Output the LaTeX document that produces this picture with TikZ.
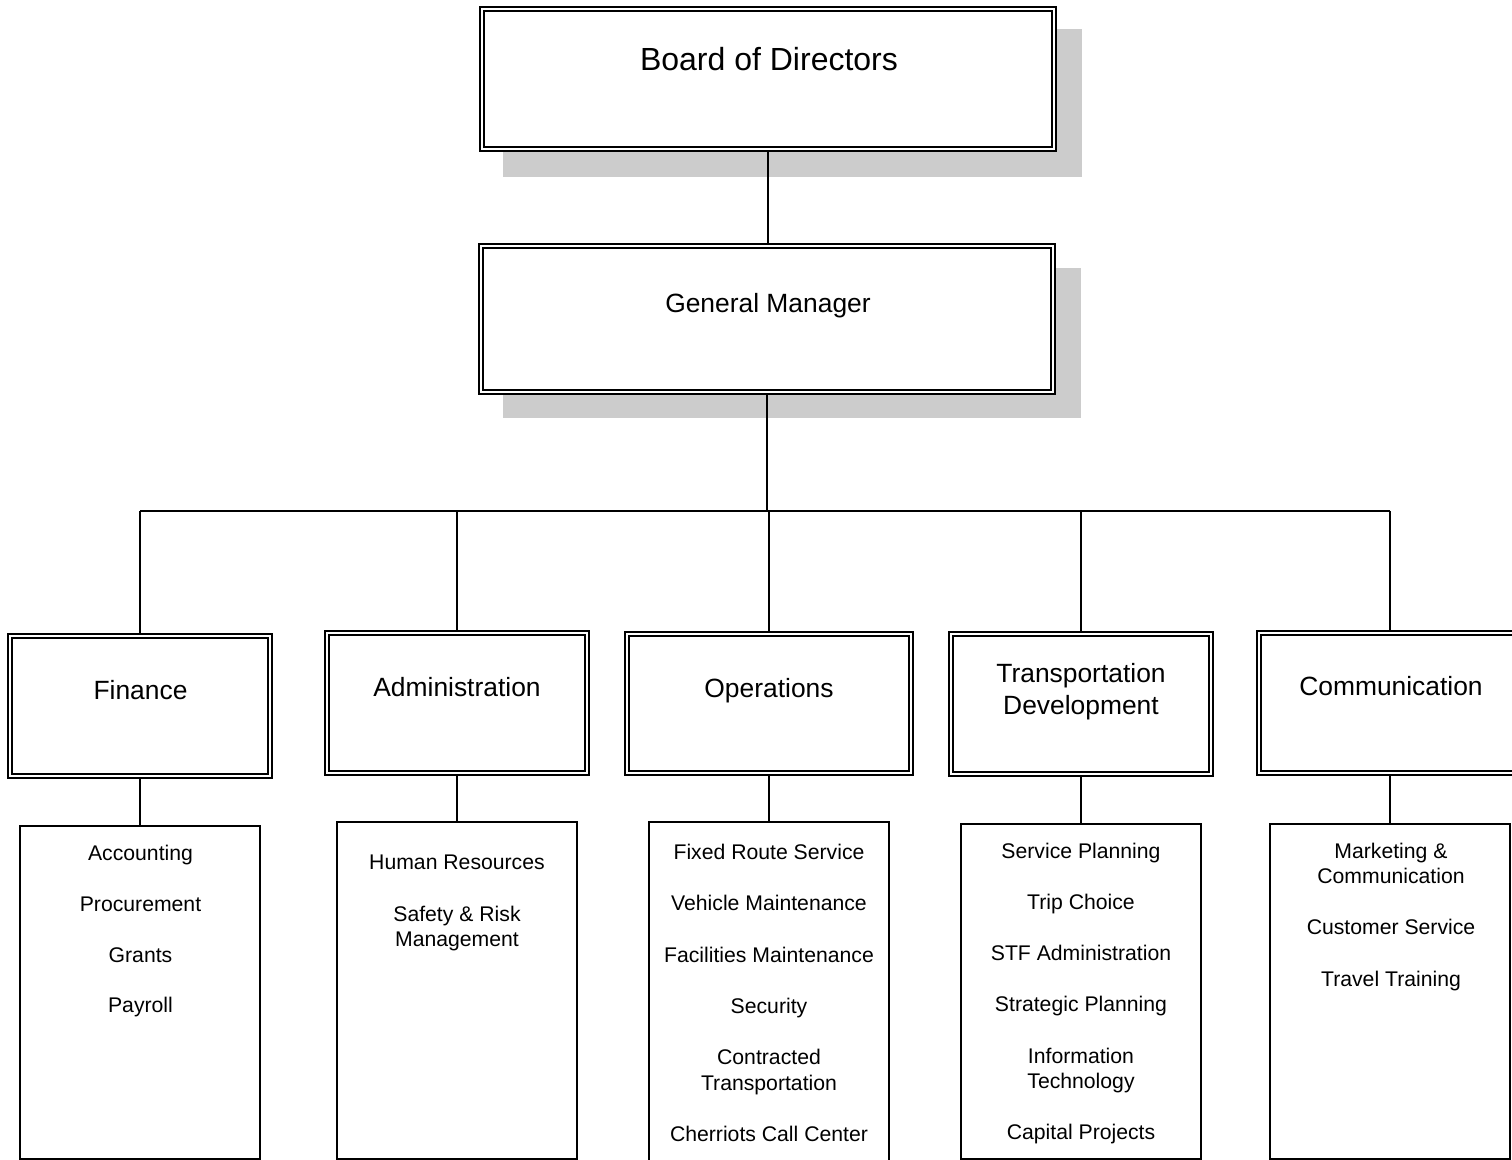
\documentclass[tikz,border=0pt]{standalone}
\usepackage{fontspec}
\setmainfont{Liberation Sans}
\usetikzlibrary{backgrounds}
\begin{document}
\begin{tikzpicture}[x=0.5pt,y=-0.5pt,
  dbox/.style n args={2}{draw=black, line width=0.75pt, double=white, double distance=1.35pt,
     fill=white, inner sep=0pt, minimum width=#1*0.5pt, minimum height=#2*0.5pt},
  sbox/.style n args={2}{draw=black, line width=0.75pt, fill=white, inner sep=0pt,
     minimum width=#1*0.5pt, minimum height=#2*0.5pt},
  shadowbox/.style={fill=black!20, draw=none},
  conn/.style={draw=black, line width=0.65pt},
  toptext/.style={anchor=base, inner sep=0pt, font=\fontsize{16}{19}\selectfont},
  depttext/.style={anchor=base, inner sep=0pt, font=\fontsize{13.2}{16}\selectfont},
  itemtext/.style={anchor=base, inner sep=0pt, font=\fontsize{10.6}{13}\selectfont}]
\useasboundingbox (0,0) rectangle (1512,1160);

% top boxes
\node[dbox={572}{140}] (board) at (768,79) {};
\node[dbox={572}{146}] (gm) at (767,319) {};
\node[toptext] (boardt) at (769,70.5) {Board of Directors};
\node[depttext] (gmt) at (768,312.5) {General Manager};

% department boxes
\node[dbox={260}{140}] (fin) at (140,706) {};
\node[dbox={260}{140}] (adm) at (457,703) {};
\node[dbox={284}{139}] (ops) at (769,703.5) {};
\node[dbox={260}{140}] (td) at (1081,704) {};
\node[dbox={262}{140}] (com) at (1390,703) {};

\node[depttext] (fint) at (140.5,700) {Finance};
\node[depttext] (admt) at (457,696.5) {Administration};
\node[depttext] (opst) at (769,697.5) {Operations};
\node[depttext] (tdt1) at (1081,682.5) {Transportation};
\node[depttext] (tdt2) at (1081,714.5) {Development};
\node[depttext] (comt) at (1391,696) {Communication};

% sub boxes
\node[sbox={240}{333}] (fins) at (140,992.5) {};
\node[sbox={240}{337}] (adms) at (457,990.5) {};
\node[sbox={240}{344}] (opss) at (769,994) {};
\node[sbox={240}{335}] (tds) at (1081,991.5) {};
\node[sbox={240}{335}] (coms) at (1390,991.5) {};

% finance items
\node[itemtext] (f1) at (140.5,860.5) {Accounting};
\node[itemtext] (f2) at (140.5,911) {Procurement};
\node[itemtext] (f3) at (140.5,962) {Grants};
\node[itemtext] (f4) at (140.5,1012.5) {Payroll};
% administration items
\node[itemtext] (a1) at (457,869.5) {Human Resources};
\node[itemtext] (a2) at (457,921.5) {Safety \& Risk};
\node[itemtext] (a3) at (457,946.5) {Management};
% operations items
\node[itemtext] (o1) at (769,859.6) {Fixed Route Service};
\node[itemtext] (o2) at (769,910.6) {Vehicle Maintenance};
\node[itemtext] (o3) at (769,962.6) {Facilities Maintenance};
\node[itemtext] (o4) at (769,1013.6) {Security};
\node[itemtext] (o5) at (769,1064.6) {Contracted};
\node[itemtext] (o6) at (769,1090.6) {Transportation};
\node[itemtext] (o7) at (769,1141.6) {Cherriots Call Center};
% transportation development items
\node[itemtext] (t1) at (1081,858.6) {Service Planning};
\node[itemtext] (t2) at (1081,909.6) {Trip Choice};
\node[itemtext] (t3) at (1081,960.6) {STF Administration};
\node[itemtext] (t4) at (1081,1011.6) {Strategic Planning};
\node[itemtext] (t5) at (1081,1063.6) {Information};
\node[itemtext] (t6) at (1081,1088.6) {Technology};
\node[itemtext] (t7) at (1081,1139.6) {Capital Projects};
% communication items
\node[itemtext] (c1) at (1391,858.6) {Marketing \&};
\node[itemtext] (c2) at (1391,883.6) {Communication};
\node[itemtext] (c3) at (1391,934.6) {Customer Service};
\node[itemtext] (c4) at (1391,986.6) {Travel Training};

\begin{scope}[on background layer]
  \fill[white] (0,0) rectangle (1512,1160);
  \fill[shadowbox] (503,29) rectangle (1082,177);
  \fill[shadowbox] (503,268) rectangle (1081,418);
  \coordinate (bus) at (767,511);
  \draw[conn] (board.south) -- (board.south |- gm.north);
  \draw[conn] (gm.south) -- (bus);
  \draw[conn] (fin.north |- bus) -- (com.north |- bus);
  \draw[conn] (fin.north |- bus) -- (fin.north);
  \draw[conn] (adm.north |- bus) -- (adm.north);
  \draw[conn] (ops.north |- bus) -- (ops.north);
  \draw[conn] (td.north |- bus) -- (td.north);
  \draw[conn] (com.north |- bus) -- (com.north);
  \draw[conn] (fin.south) -- (fin.south |- fins.north);
  \draw[conn] (adm.south) -- (adm.south |- adms.north);
  \draw[conn] (ops.south) -- (ops.south |- opss.north);
  \draw[conn] (td.south) -- (td.south |- tds.north);
  \draw[conn] (com.south) -- (com.south |- coms.north);
\end{scope}
\end{tikzpicture}
\end{document}
